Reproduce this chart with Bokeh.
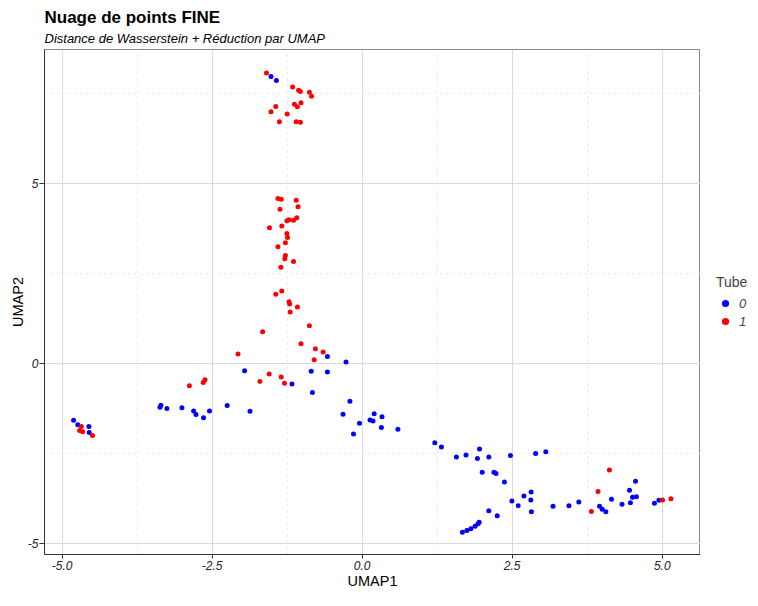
from bokeh.plotting import figure
from bokeh.models import Range1d, FixedTicker, Legend, LegendItem, Title, Spacer
from bokeh.layouts import row, column
from bokeh.embed import file_html
from bokeh.resources import INLINE

# Tube 0 (blue)
x0 = [-1.52, -1.43, -0.58, -0.27, -1.96, -0.85, -0.58, -1.17, -0.83, -0.205, -0.32,
      -3.355, -3.37, -3.255, -3.005, -2.81, -2.77, -2.645, -2.545, -2.25, -1.87,
      -4.81, -4.74, -4.555, -4.55,
      0.20, 0.33, -0.045, 0.13, 0.18, -0.145, 0.32, 0.595,
      1.21, 1.32, 1.57, 1.73, 1.955, 1.92, 2.11, 2.47, 2.89, 3.06,
      2.0, 2.195, 2.23, 2.37, 2.495, 2.60, 2.695, 2.815, 2.81, 2.82, 3.18, 3.445, 3.61,
      2.11, 2.25, 1.67, 1.745, 1.81, 1.88, 1.93, 1.95,
      3.955, 4.0, 4.06, 4.155, 4.33, 4.47, 4.505, 4.57, 4.455, 4.555, 4.87, 4.945]
y0 = [7.98, 7.87, 0.20, 0.05, -0.19, -0.21, -0.23, -0.56, -0.80, -1.04, -1.40,
      -1.15, -1.21, -1.24, -1.22, -1.31, -1.41, -1.50, -1.31, -1.16, -1.32,
      -1.57, -1.69, -1.74, -1.91,
      -1.39, -1.47, -1.65, -1.56, -1.59, -1.95, -1.77, -1.82,
      -2.19, -2.31, -2.59, -2.53, -2.37, -2.63, -2.59, -2.55, -2.49, -2.44,
      -3.01, -3.01, -3.05, -3.28, -3.81, -3.94, -3.67, -3.56, -3.78, -4.11, -3.96, -3.94, -3.84,
      -4.08, -4.22, -4.68, -4.63, -4.58, -4.51, -4.44, -4.40,
      -3.96, -4.04, -4.11, -3.76, -3.90, -3.86, -3.71, -3.69, -3.51, -3.26, -3.87, -3.79]

# Tube 1 (red)
x1 = [-1.595, -1.16, -1.06, -1.03, -0.88, -0.845, -1.13, -1.02, -1.08, -1.44, -1.52, -1.25, -1.38, -1.10, -1.03,
      -1.405, -1.35, -1.10, -1.07, -1.37, -1.09, -1.145, -1.22, -1.255, -1.545, -1.34, -1.255, -1.245, -1.28,
      -1.405, -1.28, -1.29, -1.145, -1.355, -1.34, -1.44, -1.22, -1.21, -1.08, -1.20,
      -0.88, -1.66, -1.02, -0.78, -0.65, -0.80, -2.07, -1.55, -1.35, -1.705, -1.295, -2.62, -2.65, -2.88,
      -4.68, -4.71, -4.66, -4.495,
      4.12, 3.93, 3.82, 5.005, 5.145]
y1 = [8.08, 7.69, 7.60, 7.56, 7.54, 7.43, 7.21, 7.25, 7.14, 7.15, 7.0, 6.94, 6.72, 6.72, 6.71,
      4.59, 4.57, 4.54, 4.36, 4.29, 4.06, 3.99, 4.0, 3.97, 3.78, 3.83, 3.62, 3.51, 3.36,
      3.25, 3.01, 2.92, 2.84, 2.68, 2.02, 1.93, 1.72, 1.66, 1.58, 1.44,
      1.06, 0.89, 0.56, 0.42, 0.33, 0.11, 0.27, -0.28, -0.37, -0.49, -0.54, -0.44, -0.52, -0.61,
      -1.74, -1.85, -1.89, -1.99,
      -2.95, -3.55, -4.10, -3.78, -3.75]

x_ticks = [-5.0, -2.5, 0.0, 2.5, 5.0]
x_tick_labels = ["-5.0", "-2.5", "0.0", "2.5", "5.0"]
x_minor = [-3.75, -1.25, 1.25, 3.75]
y_ticks = [-5, 0, 5]
y_tick_labels = ["-5", "0", "5"]
y_minor = [-2.5, 2.5, 7.5]
legend_title = "Tube"
legend_labels = ["0", "1"]
colors = ["#0000FF", "#FF0000"]

FONT = "Liberation Sans"

p = figure(frame_width=656, frame_height=505, output_backend="svg", toolbar_location=None,
           title=None,
           x_range=Range1d(-5.295, 5.638), y_range=Range1d(-5.297, 8.73),
           min_border_left=0, min_border_right=0, min_border_top=0, min_border_bottom=0)

p.background_fill_color = "white"
p.border_fill_color = "white"
p.outline_line_color = "#888888"
p.outline_line_width = 1

p.xaxis.ticker = FixedTicker(ticks=x_ticks, minor_ticks=x_minor)
p.yaxis.ticker = FixedTicker(ticks=y_ticks, minor_ticks=y_minor)
p.xaxis.major_label_overrides = {t: l for t, l in zip(x_ticks, x_tick_labels)}
p.yaxis.major_label_overrides = {t: l for t, l in zip(y_ticks, y_tick_labels)}

for ax in (p.xaxis, p.yaxis):
    ax.axis_line_color = "#333333"
    ax.axis_line_width = 1
    ax.major_tick_line_color = "#333333"
    ax.major_tick_in = 0
    ax.minor_tick_line_color = None
    ax.major_label_text_font = FONT
    ax.major_label_text_font_style = "italic"
    ax.major_label_text_font_size = "12px"
    ax.major_label_text_color = "#222222"
    ax.axis_label_text_font = FONT
    ax.axis_label_text_font_style = "normal"
    ax.axis_label_text_font_size = "14.5px"
    ax.axis_label_text_color = "black"

p.xaxis.major_tick_out = 4
p.xaxis.major_label_standoff = 2
p.xaxis.axis_label_standoff = 0
p.yaxis.major_tick_out = 5
p.yaxis.major_label_standoff = 1
p.yaxis.axis_label_standoff = -1

p.xaxis.axis_label = "UMAP1"
p.yaxis.axis_label = "UMAP2"

for g in (p.xgrid, p.ygrid):
    g.grid_line_color = "#DADADA"
    g.grid_line_width = 1
    g.minor_grid_line_color = "#E4E4E4"
    g.minor_grid_line_dash = "dotted"
    g.minor_grid_line_width = 1

p.scatter(x0, y0, size=5, color=colors[0], line_color=None)
p.scatter(x1, y1, size=5, color=colors[1], line_color=None)

sub = Title(text="Distance de Wasserstein + Réduction par UMAP", align="left",
            text_font=FONT, text_font_style="italic", text_font_size="13px",
            text_color="black", standoff=7)
p.add_layout(sub, "above")
main = Title(text="Nuage de points FINE", align="left",
             text_font=FONT, text_font_style="bold", text_font_size="17px",
             text_color="black", standoff=-2)
p.add_layout(main, "above")

# separate legend panel to the right of the plot
lg = figure(width=48, height=400, output_backend="svg", toolbar_location=None, title=None,
            x_axis_location=None, y_axis_location=None,
            min_border_left=0, min_border_right=0, min_border_top=0, min_border_bottom=0,
            x_range=Range1d(0, 1), y_range=Range1d(0, 1))
lg.outline_line_color = None
lg.grid.visible = False
lg.background_fill_color = "white"
lg.border_fill_color = "white"
# keys only: their single point lies outside the panel's range
lr0 = lg.scatter(x=[-5], y=[-5], size=4, color=colors[0], line_color=None)
lr1 = lg.scatter(x=[-5], y=[-5], size=4, color=colors[1], line_color=None)

legend = Legend(items=[LegendItem(label=legend_labels[0], renderers=[lr0]),
                       LegendItem(label=legend_labels[1], renderers=[lr1])],
                location=(16, 39), title=legend_title,
                title_text_font=FONT, title_text_font_size="14px", title_text_font_style="normal",
                title_standoff=4,
                label_text_font=FONT, label_text_font_style="italic", label_text_font_size="13px",
                glyph_width=18, glyph_height=18, label_height=18, spacing=0, label_standoff=5,
                padding=0, margin=0, border_line_color=None, background_fill_alpha=0)
lg.add_layout(legend, "center")

layout = column(Spacer(height=6), row(Spacer(width=6), p, lg))

open("out.html", "w").write(file_html(layout, INLINE))
